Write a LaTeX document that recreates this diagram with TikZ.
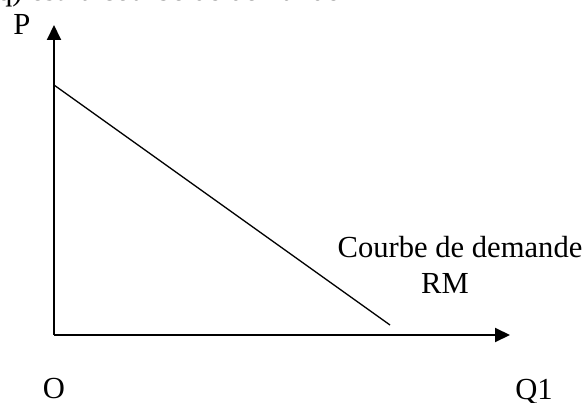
\documentclass[tikz,border=0pt]{standalone}
\usepackage{fontspec}
\setmainfont{Liberation Serif}
\usetikzlibrary{arrows.meta}
\begin{document}
\begin{tikzpicture}[x=1pt,y=-1pt,
  lbl/.style={inner sep=0pt,anchor=base,font=\fontsize{30.6}{36}\selectfont},
  axis/.style={line width=2pt,-{Triangle[length=15pt,width=14pt]}},
  curve/.style={line width=1.3pt}]
\useasboundingbox (0,0) rectangle (585,403);
\clip (0,0) rectangle (585,403);
\fill[white] (0,0) rectangle (585,403);
\node[lbl,anchor=base west] (title) at (-3,0.6) {q) est la courbe de demande};
\coordinate (o) at (54,335);
\coordinate (ytip) at (54,25);
\coordinate (xtip) at (510,335);
\coordinate (d1) at (54,85);
\coordinate (d2) at (390,325);
\draw[axis] (o) -- (ytip);
\draw[axis] (o) -- (xtip);
\draw[curve] (d1) -- (d2);
\node[lbl] (P) at (22,35) {P};
\node[lbl] (O) at (54,398) {O};
\node[lbl] (Q) at (534,399) {Q1};
\node[lbl] (cd) at (460,257) {Courbe de demande};
\node[lbl] (rm) at (445,293) {RM};
\end{tikzpicture}
\end{document}
